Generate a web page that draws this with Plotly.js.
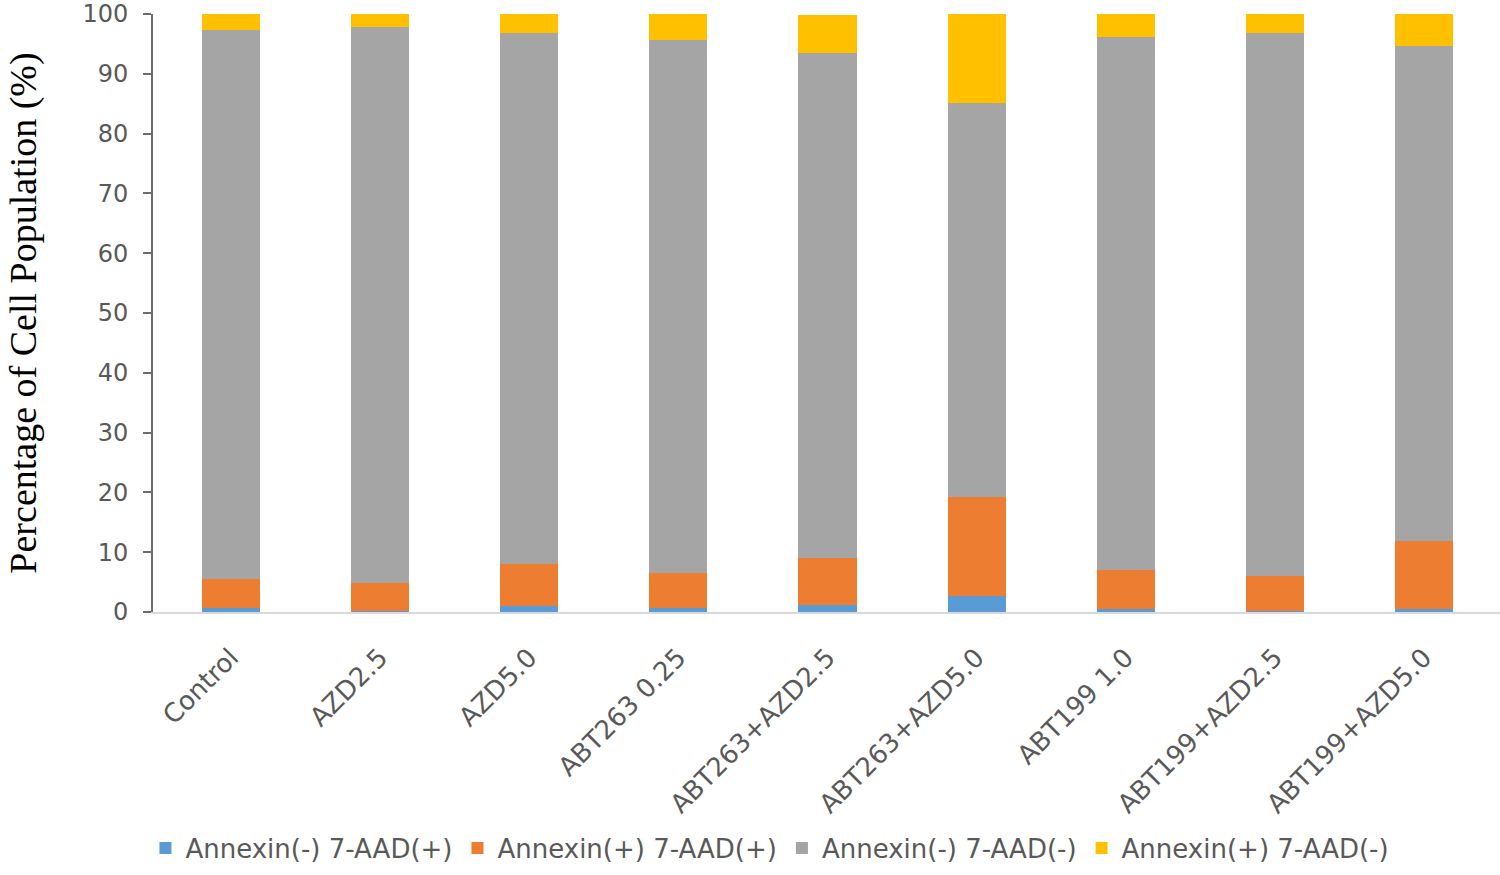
<!DOCTYPE html>
<html>
<head>
<meta charset="utf-8">
<script src="https://cdn.plot.ly/plotly-3.0.1.min.js"></script>
<style>html,body{margin:0;padding:0;background:#fff;}#chart{width:1500px;height:875px;}</style>
</head>
<body>
<div id="chart"></div>
<script>
const categories = ["Control","AZD2.5","AZD5.0","ABT263 0.25","ABT263+AZD2.5","ABT263+AZD5.0","ABT199 1.0","ABT199+AZD2.5","ABT199+AZD5.0"];
const seriesNames = ["Annexin(-) 7-AAD(+)","Annexin(+) 7-AAD(+)","Annexin(-) 7-AAD(-)","Annexin(+) 7-AAD(-)"];
const annexNeg7aadPos = [0.6, 0.2, 1.0, 0.6, 1.1, 2.7, 0.5, 0.2, 0.5];
const annexPos7aadPos = [4.9, 4.7, 7.1, 5.9, 8.0, 16.6, 6.6, 5.8, 11.4];
const annexNeg7aadNeg = [91.8, 93.0, 88.7, 89.2, 84.4, 65.9, 89.1, 90.8, 82.8];
const annexPos7aadNeg = [2.7, 2.1, 3.2, 4.3, 6.4, 14.8, 3.8, 3.2, 5.3];
const colors = ["#5B9BD5","#ED7D31","#A5A5A5","#FFC000"];
const yTicks = [0,10,20,30,40,50,60,70,80,90,100];

const seriesValues = [annexNeg7aadPos, annexPos7aadPos, annexNeg7aadNeg, annexPos7aadNeg];
const traces = seriesValues.map((vals, i) => ({
  type: "bar",
  name: seriesNames[i],
  x: categories,
  y: vals,
  marker: {color: colors[i]},
  hoverinfo: "x+y+name"
}));

const fam = "'DejaVu Sans', 'Open Sans', sans-serif";
const layout = {
  width: 1500, height: 875,
  barmode: "stack",
  bargap: 0.61,
  margin: {l: 153, r: 0, t: 14, b: 263},
  paper_bgcolor: "#fff",
  plot_bgcolor: "#fff",
  showlegend: true,
  legend: {
    orientation: "h",
    x: 0.458, xanchor: "center",
    y: -0.395, yanchor: "middle",
    font: {family: fam, size: 26, color: "#595959"},
    traceorder: "normal",
    itemwidth: 30
  },
  xaxis: {
    type: "category",
    range: [-0.523, 8.51],
    tickangle: -45,
    tickfont: {family: fam, size: 26, color: "#595959"},
    ticklabelstandoff: 18,
    showline: true,
    linecolor: "#D9D9D9",
    linewidth: 2,
    ticks: "",
    showgrid: false,
    zeroline: false,
    automargin: false
  },
  yaxis: {
    range: [0, 100],
    tickvals: yTicks,
    ticktext: yTicks.map(String),
    tickfont: {family: fam, size: 24, color: "#595959"},
    ticklabelstandoff: 10,
    ticklabeloverflow: "allow",
    showline: true,
    linecolor: "#6b6b6b",
    linewidth: 2,
    ticks: "outside",
    ticklen: 8,
    tickwidth: 2,
    tickcolor: "#6b6b6b",
    showgrid: false,
    zeroline: false,
    automargin: false,
    title: {
      text: "Percentage of Cell Population (%)",
      font: {family: "'Liberation Serif', 'DejaVu Serif', serif", size: 38, color: "#000"},
      standoff: 34
    }
  }
};

Plotly.newPlot("chart", traces, layout, {displayModeBar: false, staticPlot: true});
</script>
</body>
</html>
